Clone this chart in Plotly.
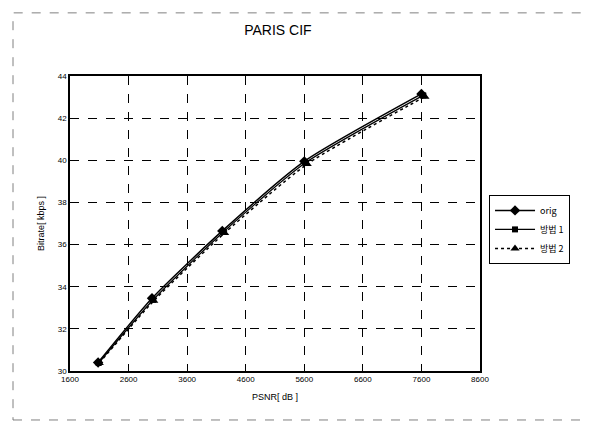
import plotly.graph_objects as go

psnr_orig = [2080, 3000, 4200, 5600, 7600]
rate_orig = [30.4, 33.45, 36.65, 39.95, 43.15]
psnr_m1 = [2090, 3020, 4220, 5620, 7630]
rate_m1 = [30.38, 33.38, 36.6, 39.88, 43.08]
psnr_m2 = [2100, 3030, 4240, 5650, 7660]
rate_m2 = [30.38, 33.33, 36.55, 39.82, 43.02]
series_names = ["orig", "방법 1", "방법 2"]
x_ticks = [1600, 2600, 3600, 4600, 5600, 6600, 7600, 8600]
y_ticks = [30, 32, 34, 36, 38, 40, 42, 44]

font = "Liberation Sans, Arial, sans-serif"
kfont = "Noto Sans CJK KR, Liberation Sans, sans-serif"
fig = go.Figure()
fig.add_trace(go.Scatter(x=psnr_orig, y=rate_orig, name=series_names[0], mode="lines+markers",
                         line=dict(color="black", width=1.5, shape="spline", smoothing=0.6),
                         marker=dict(symbol="diamond", size=8, color="black")))
fig.add_trace(go.Scatter(x=psnr_m1, y=rate_m1, name=series_names[1], mode="lines+markers",
                         line=dict(color="black", width=1.2, shape="spline", smoothing=0.6),
                         marker=dict(symbol="square", size=6, color="black")))
fig.add_trace(go.Scatter(x=psnr_m2, y=rate_m2, name=series_names[2], mode="lines+markers",
                         line=dict(color="black", width=1.5, dash="dot", shape="spline", smoothing=0.6),
                         marker=dict(symbol="triangle-up", size=8, color="black")))

axis_common = dict(showline=True, linecolor="black", linewidth=1.5, mirror=True,
                   showgrid=True, gridcolor="black", griddash="dash", gridwidth=1,
                   zeroline=False, ticks="", automargin=False,
                   tickfont=dict(size=8, family=font, color="black"))
fig.update_xaxes(range=[1600, 8600], tickvals=x_ticks, ticktext=[str(v) for v in x_ticks],
                 title=dict(text="PSNR[ dB ]", font=dict(size=9, family=font, color="black"), standoff=10),
                 **axis_common)
fig.update_yaxes(range=[30, 44], tickvals=y_ticks, ticktext=[str(v) for v in y_ticks],
                 title=dict(text="Bitrate[ kbps ]", font=dict(size=9, family=font, color="black"), standoff=12),
                 **axis_common)

fig.update_layout(
    width=592, height=423,
    margin=dict(l=62, r=120, t=68, b=60),
    paper_bgcolor="white", plot_bgcolor="white",
    title=dict(text="PARIS CIF", x=0.456, xanchor="center", y=0.948, yanchor="middle",
               font=dict(size=14, family=font, color="black")),
    legend=dict(x=1.022, y=0.48, xanchor="left", yanchor="middle",
                bordercolor="black", borderwidth=1, bgcolor="white",
                font=dict(size=9, family=kfont, color="black"), itemwidth=40,
                tracegroupgap=0),
    showlegend=True,
    shapes=[dict(type="rect", xref="paper", yref="paper", x0=-0.139, x1=1.33, y0=-0.166, y1=1.214,
                 line=dict(color="gray", width=1, dash="dash"))],
)
fig.write_html("out.html")
